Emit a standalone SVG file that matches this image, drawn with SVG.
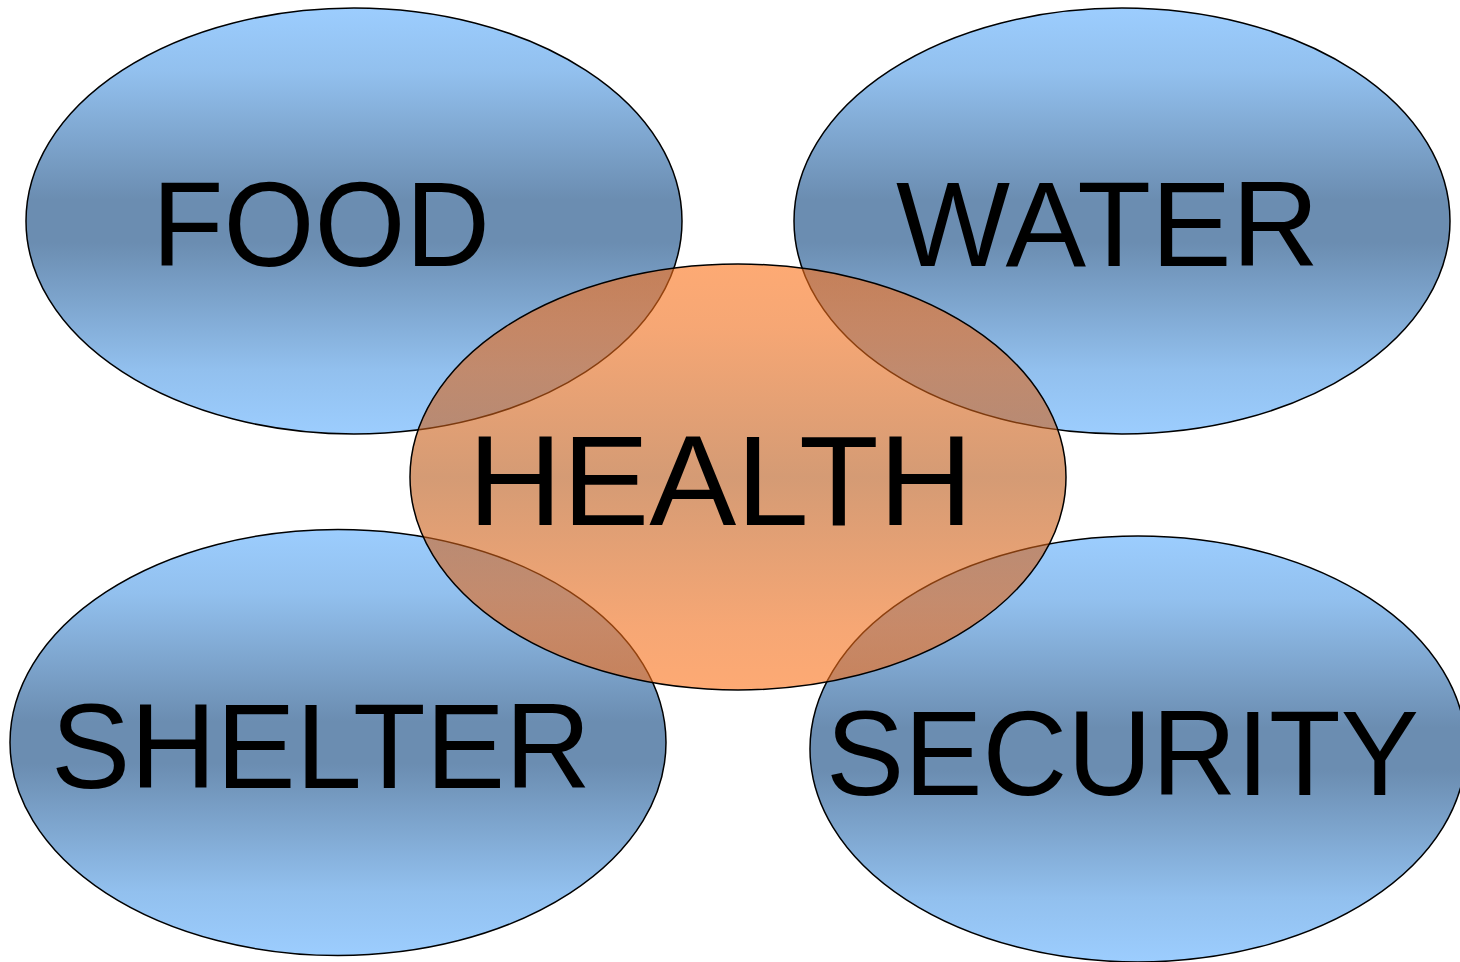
<svg xmlns="http://www.w3.org/2000/svg" width="1460" height="962" viewBox="0 0 1460 962">
<defs>
<linearGradient id="blue" x1="0" y1="0" x2="0" y2="1">
<stop offset="0" stop-color="#9ccdfe"/>
<stop offset="0.15" stop-color="#92c0ee"/>
<stop offset="0.45" stop-color="#6b8db1"/>
<stop offset="0.55" stop-color="#6b8db1"/>
<stop offset="0.85" stop-color="#92c0ee"/>
<stop offset="1" stop-color="#9ccdfe"/>
</linearGradient>
<linearGradient id="orange" x1="0" y1="0" x2="0" y2="1">
<stop offset="0" stop-color="#fc7117"/>
<stop offset="0.15" stop-color="#f06c18"/>
<stop offset="0.5" stop-color="#b85818"/>
<stop offset="0.85" stop-color="#f06c18"/>
<stop offset="1" stop-color="#fc7117"/>
</linearGradient>
</defs>
<style>
.b{fill:url(#blue);stroke:#000;stroke-width:1.5}
.o{fill:url(#orange);fill-opacity:0.6;stroke:#000;stroke-width:1.5}
text{font-family:"Liberation Sans",Arial,sans-serif;font-size:120px;fill:#000}
</style>
<g id="food"><ellipse class="b" cx="354" cy="221" rx="328" ry="213"/><text x="152" y="266" textLength="338" lengthAdjust="spacingAndGlyphs">FOOD</text></g>
<g id="water"><ellipse class="b" cx="1122" cy="221" rx="328" ry="213"/><text x="896" y="266" textLength="423" lengthAdjust="spacingAndGlyphs">WATER</text></g>
<g id="shelter"><ellipse class="b" cx="338" cy="742.5" rx="328" ry="213"/><text x="51" y="788" textLength="540" lengthAdjust="spacingAndGlyphs">SHELTER</text></g>
<g id="security"><ellipse class="b" cx="1138" cy="749" rx="328" ry="213"/><text x="826" y="795" textLength="593" lengthAdjust="spacingAndGlyphs">SECURITY</text></g>
<g id="health"><ellipse class="o" cx="738" cy="477" rx="328" ry="213"/><text x="468" y="525" style="font-size:128px" textLength="505" lengthAdjust="spacingAndGlyphs">HEALTH</text></g>
<g id="connectors"/>
</svg>
